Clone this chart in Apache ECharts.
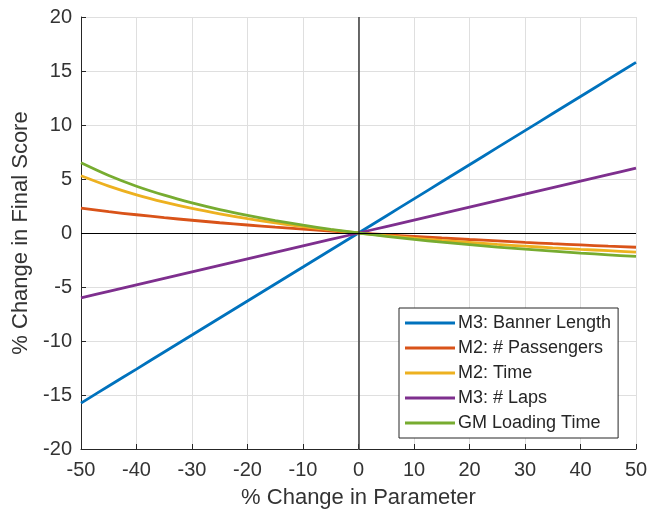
<!DOCTYPE html>
<html>
<head>
<meta charset="utf-8">
<script src="https://cdn.jsdelivr.net/npm/echarts@6/dist/echarts.min.js"></script>
<style>html,body{margin:0;padding:0;background:#fff}#c{width:661px;height:514px}</style>
</head>
<body>
<div id="c"></div>
<script>
const xValues = [-50,-45,-40,-35,-30,-25,-20,-15,-10,-5,0,5,10,15,20,25,30,35,40,45,50];
const bannerLength = [-15.75,-14.17,-12.6,-11.02,-9.45,-7.87,-6.3,-4.72,-3.15,-1.57,0,1.58,3.16,4.74,6.32,7.9,9.48,11.06,12.64,14.22,15.8];
const passengers = [2.3,1.97,1.69,1.42,1.18,0.95,0.74,0.54,0.35,0.17,0,-0.16,-0.31,-0.46,-0.6,-0.73,-0.87,-0.99,-1.1,-1.22,-1.32];
const m2Time = [5.3,4.34,3.53,2.85,2.27,1.77,1.33,0.94,0.59,0.28,0,-0.25,-0.48,-0.69,-0.88,-1.06,-1.22,-1.37,-1.51,-1.64,-1.77];
const laps = [-6.0,-5.4,-4.8,-4.2,-3.6,-3.0,-2.4,-1.8,-1.2,-0.6,0,0.6,1.2,1.8,2.4,3.0,3.6,4.2,4.8,5.4,6.0];
const gmLoading = [6.5,5.32,4.33,3.5,2.79,2.17,1.63,1.15,0.72,0.34,0,-0.31,-0.59,-0.85,-1.08,-1.3,-1.5,-1.68,-1.86,-2.02,-2.17];
const seriesNames = ['M3: Banner Length','M2: # Passengers','M2: Time','M3: # Laps','GM Loading Time'];
const seriesValues = [bannerLength, passengers, m2Time, laps, gmLoading];
const colors = ['#0072BD','#D95319','#EDB120','#7E2F8E','#77AC30'];

const textColor = '#333333';
const chart = echarts.init(document.getElementById('c'), null, {renderer:'canvas'});
const series = seriesValues.map((vals, i) => ({
  name: seriesNames[i],
  type: 'line',
  data: xValues.map((x, k) => [x, vals[k]]),
  showSymbol: false,
  smooth: 0.3,
  lineStyle: {color: colors[i], width: 2.8},
  itemStyle: {color: colors[i]},
  z: 3
}));
series.push({
  type: 'line', data: [], silent: true, z: 2,
  markLine: {
    silent: true, symbol: 'none', label: {show: false},
    animation: false,
    data: [
      {xAxis: 0, lineStyle: {color: '#3a3a3a', width: 1.5, type: 'solid'}},
      {yAxis: 0, lineStyle: {color: '#000000', width: 1.2, type: 'solid'}}
    ]
  }
});

chart.setOption({
  animation: false,
  backgroundColor: '#ffffff',
  grid: {left: 81, right: 25, top: 17, bottom: 62, containLabel: false},
  xAxis: {
    type: 'value', min: -50, max: 50, interval: 10,
    name: '% Change in Parameter', nameLocation: 'middle', nameGap: 38,
    nameTextStyle: {fontFamily: 'Liberation Sans', fontSize: 22, color: textColor},
    axisLine: {show: true, onZero: false, lineStyle: {color: '#262626', width: 1}},
    axisTick: {show: true, inside: true, length: 5, lineStyle: {color: '#262626'}},
    axisLabel: {fontFamily: 'Liberation Sans', fontSize: 20, color: textColor, margin: 11},
    splitLine: {show: true, lineStyle: {color: '#dfdfdf', width: 1}}
  },
  yAxis: {
    type: 'value', min: -20, max: 20, interval: 5,
    name: '% Change in Final Score', nameLocation: 'middle', nameGap: 47,
    nameTextStyle: {fontFamily: 'Liberation Sans', fontSize: 22, color: textColor},
    axisLine: {show: true, onZero: false, lineStyle: {color: '#262626', width: 1}},
    axisTick: {show: true, inside: true, length: 5, lineStyle: {color: '#262626'}},
    axisLabel: {fontFamily: 'Liberation Sans', fontSize: 20, color: textColor, margin: 9},
    splitLine: {show: true, lineStyle: {color: '#dfdfdf', width: 1}}
  },
  legend: {
    orient: 'vertical', left: 399, top: 308,
    data: seriesNames,
    icon: 'rect', itemWidth: 50, itemHeight: 3, itemGap: 5,
    backgroundColor: '#ffffff', borderColor: '#262626', borderWidth: 1,
    padding: [5, 7, 5, 6],
    textStyle: {fontFamily: 'Liberation Sans', fontSize: 18, color: '#262626', lineHeight: 20, padding: [0,0,0,-2]}
  },
  series: series
});
</script>
</body>
</html>
